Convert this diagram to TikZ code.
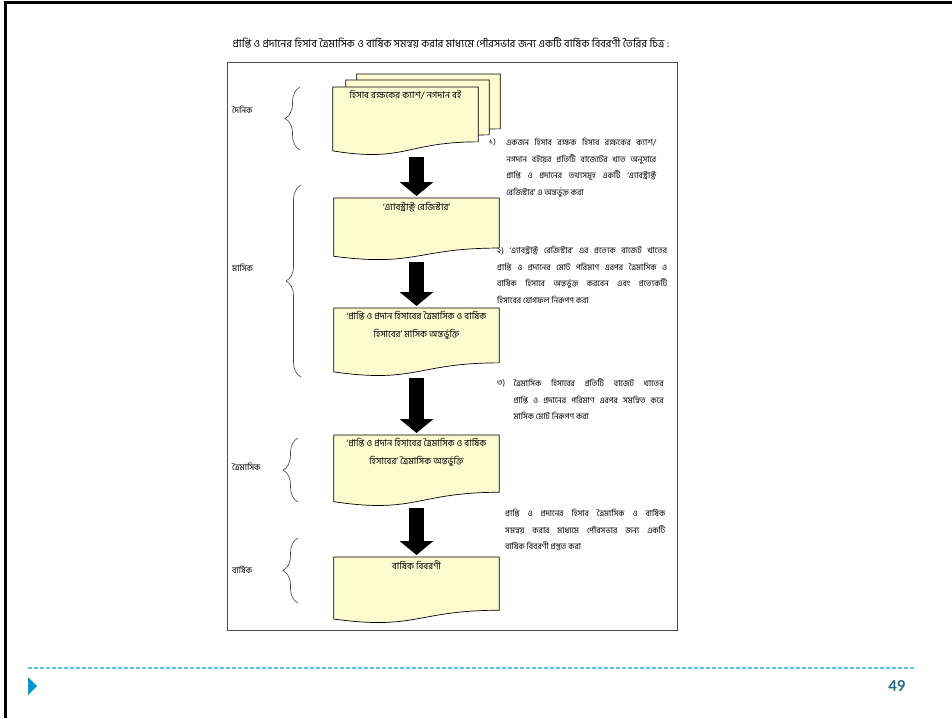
\documentclass[tikz,border=0pt]{standalone}
\usepackage{fontspec}
\newfontfamily\bn[Script=Bengali]{Hind Siliguri}
\newfontfamily\lato{Lato}
\usepackage{xcolor}
\usepackage{tikz}
\usetikzlibrary{positioning,calc,arrows.meta,decorations.pathreplacing}
\definecolor{docyellow}{HTML}{FCFBCF}
\definecolor{dashblue}{HTML}{5BC6E8}
\definecolor{triblue}{HTML}{0097D8}
\definecolor{pagecol}{HTML}{1B6A88}

% flowchart "document" outline round an empty node
\newcommand{\docshape}[1]{%
  \draw[docline] (#1.north west) -- (#1.north east)
    -- ($(#1.south east)!0.198!(#1.north east)$)
    .. controls ($(#1.south)!0.198!(#1.north)$) and ($(#1.south)!-0.107!(#1.north)$)
    .. ($(#1.south west)!0.066!(#1.north west)$) -- cycle;}

\begin{document}
\begin{tikzpicture}
        [
    x=1pt, y=-1pt,
    docbox/.style={inner sep=0pt, anchor=north, minimum width=165pt},
    docline/.style={draw=black, line width=0.7pt, fill=docyellow},
    doctxt/.style={font=\bn\fontsize{9.3}{18}\selectfont, align=center, inner sep=1pt},
    note/.style={font=\bn\fontsize{8.3}{16.5}\selectfont, align=justify, inner sep=0pt, anchor=north west},
    lbl/.style={font=\bn\fontsize{8.5}{10}\selectfont, anchor=west, inner sep=0pt},
    bigarrow/.style={line width=15pt, -{Triangle[length=14pt, width=33pt]}, shorten <=2pt, shorten >=2pt},
    bracedec/.style={decorate, decoration={brace, amplitude=15pt}, line width=0.6pt, draw=black!75}
    ]
    \useasboundingbox (0,0) rectangle (952,718);

    % Marco de la diapositiva
    \draw[line width=2.7pt] (5.3,718) -- (5.3,2.2) -- (952,2.2);
    \draw[black!70, line width=0.8pt] (227,62) rectangle (677,630);
    \node[font=\bn\fontsize{10.7}{12}\selectfont, inner sep=0pt] (title) at (451,43)
      {প্রাপ্তি ও প্রদানের হিসাব ত্রৈমাসিক ও বার্ষিক সমন্বয় করার মাধ্যমে পৌরসভার জন্য একটি বার্ষিক বিবরণী তৈরির চিত্র :};

    % Cajas
    \node[docbox, minimum width=145pt, minimum height=68pt] (b1) at (405.5,87) {};
    \node[docbox, minimum width=143pt, minimum height=68pt] (b1m) at ([shift={(12,-7)}]b1.north) {};
    \node[docbox, minimum width=143pt, minimum height=68pt] (b1b) at ([shift={(23,-13)}]b1.north) {};
    \node[docbox, minimum height=62pt] (b2) at (416.5,198) {};
    \node[docbox, minimum height=68pt] (b3) at (416.5,308) {};
    \node[docbox, minimum height=71pt] (b4) at (416.5,435) {};
    \node[docbox, minimum height=66pt] (b5) at (416.5,557) {};
    \docshape{b1b}
    \docshape{b1m}
    \docshape{b1}
    \docshape{b2}
    \docshape{b3}
    \docshape{b4}
    \docshape{b5}
    % Textos de las cajas
    \node[doctxt, below=2pt of b1.north] (t1) {হিসাব রক্ষকের ক্যাশ/ নগদান বই};
    \node[doctxt, below=3pt of b2.north] (t2) {‘এ্যাবস্ট্রাক্ট রেজিস্টার’};
    \node[doctxt, below=2pt of b3.north] (t3) {‘প্রাপ্তি ও প্রদান হিসাবের ত্রৈমাসিক ও বার্ষিক\\ হিসাবের’ মাসিক অন্তর্ভুক্তি};
    \node[doctxt, below=2pt of b4.north] (t4) {‘প্রাপ্তি ও প্রদান হিসাবের ত্রৈমাসিক ও বার্ষিক\\ হিসাবের’ ত্রৈমাসিক অন্তর্ভুক্তি};
    \node[doctxt, below=3pt of b5.north] (t5) {বার্ষিক বিবরণী};

    % Flechas
    \draw[bigarrow] (b2 |- b1.south) -- (b2);
    \draw[bigarrow] (b2) -- (b3);
    \draw[bigarrow] (b3) -- (b4);
    \draw[bigarrow] (b4) -- (b5);

    % Llaves y periodos
    \draw[bracedec] (300,150) -- (300,87);
    \draw[bracedec] (301,377) -- (301,185);
    \draw[bracedec] (298,502) -- (298,438);
    \draw[bracedec] (298,603) -- (298,538);
    \node[lbl] (daily) at (232,110) {দৈনিক};
    \node[lbl] (monthly) at (232,268) {মাসিক};
    \node[lbl] (quarterly) at (232,467) {ত্রৈমাসিক};
    \node[lbl] (yearly) at (232,570) {বার্ষিক};

    % Notas
    \node[note] (n1num) at (489,138) {১)};
    \node[note, text width=150pt] (n1) at ([xshift=10pt]n1num.north east)
      {একজন হিসাব রক্ষক হিসাব রক্ষকের ক্যাশ/\linebreak নগদান বইয়ের প্রতিটি বাজেটের খাত অনুসারে\linebreak প্রাপ্তি ও প্রদানের তথ্যসমূহ একটি ‘এ্যাবস্ট্রাক্ট\linebreak রেজিস্টার’ এ অন্তর্ভুক্ত করা};
    \node[note, text width=170pt] (n2) at (497,246)
      {২) ‘এ্যাবস্ট্রাক্ট রেজিস্টার’ এর প্রত্যেক বাজেট খাতের\linebreak প্রাপ্তি ও প্রদানের মোট পরিমাণ এরপর ত্রৈমাসিক ও\linebreak বার্ষিক হিসাবে অন্তর্ভুক্ত করবেন এবং প্রত্যেকটি\linebreak হিসাবের যোগফল নিরূপণ করা};
    \node[note] (n3num) at (497,379) {৩)};
    \node[note, text width=150pt] (n3) at ([xshift=8pt]n3num.north east)
      {ত্রৈমাসিক হিসাবের প্রতিটি বাজেট খাতের\linebreak প্রাপ্তি ও প্রদানের পরিমাণ এরপর সমন্বিত করে\linebreak মাসিক মোট নিরূপণ করা};
    \node[note, text width=160pt] (n4) at (505,509)
      {প্রাপ্তি ও প্রদানের হিসাব ত্রৈমাসিক ও বার্ষিক\linebreak সমন্বয় করার মাধ্যমে পৌরসভার জন্য একটি\linebreak বার্ষিক বিবরণী প্রস্তুত করা};

    % Pie de la diapositiva
    \draw[dashblue, line width=1.3pt, dash pattern=on 4pt off 2pt] (28,668) -- (916,668);
    \fill[triblue] (28,677) -- (37,686) -- (28,695) -- cycle;
    \node[font=\lato\bfseries\fontsize{15}{16}\selectfont, text=pagecol, inner sep=0pt] (pgno) at (897,686) {49};
\end{tikzpicture}
\end{document}
